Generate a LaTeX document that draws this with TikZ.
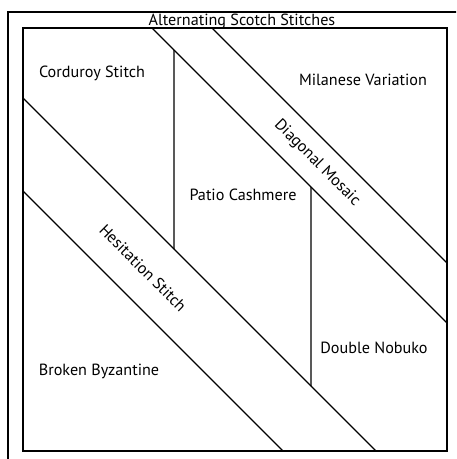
\documentclass[tikz,border=0pt]{standalone}
\usepackage{fontspec}
\setmainfont{PT Sans}
\usetikzlibrary{calc}

\begin{document}
\begin{tikzpicture}[
  x=0.025cm, y=-0.025cm,
  frame/.style = {draw, line width=1.1pt},
  seam/.style = {draw, line width=0.9pt},
  patch/.style = {font=\fontsize{11.5}{13}\selectfont, inner sep=0pt},
]

  \useasboundingbox (0,0) rectangle (456,459);
  \clip (0,0) rectangle (456,459);

  % Frames
  \draw[frame] (8,12) rectangle (480,490);
  \coordinate (nw) at (23,28);
  \coordinate (se) at (447,451);
  \draw[frame] (nw) rectangle (se);

  % Diagonal Mosaic band
  \coordinate (dm_a) at (152,28);
  \coordinate (dm_b) at (447,323);
  \coordinate (dm_c) at (212,28);
  \coordinate (dm_d) at (447,263);
  \draw[seam] (dm_a) -- (dm_b);
  \draw[seam] (dm_c) -- (dm_d);

  % Hesitation Stitch band
  \coordinate (hs_a) at (23,98);
  \coordinate (hs_b) at (376,451);
  \coordinate (hs_c) at (23,191);
  \coordinate (hs_d) at (283,451);
  \draw[seam] (hs_a) -- (hs_b);
  \draw[seam] (hs_c) -- (hs_d);

  % Verticals
  \draw[seam] ($(dm_a)!0.0746!(dm_b)$) -- ($(hs_a)!0.4278!(hs_b)$);
  \draw[seam] ($(dm_a)!0.5390!(dm_b)$) -- ($(hs_a)!0.8159!(hs_b)$);

  % Labels
  \node[patch] (title) at (242,21) {Alternating Scotch Stitches};
  \node[patch] (corduroy) at (92,73) {Corduroy Stitch};
  \node[patch] (milanese) at (363,80) {Milanese Variation};
  \node[patch] (patio) at (243,195) {Patio Cashmere};
  \node[patch, rotate=-45] (mosaic) at (317,163) {Diagonal Mosaic};
  \node[patch, rotate=-45] (hesitation) at (143,268) {Hesitation Stitch};
  \node[patch] (nobuko) at (374,348) {Double Nobuko};
  \node[patch] (byzantine) at (99,371) {Broken Byzantine};

\end{tikzpicture}
\end{document}
